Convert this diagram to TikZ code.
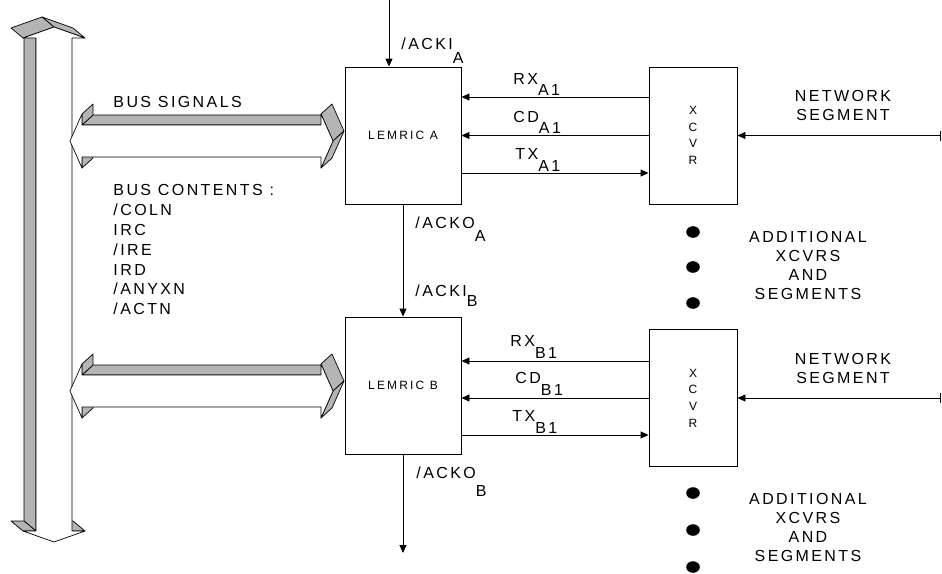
\documentclass[tikz,border=0pt]{standalone}
\usepackage{fontspec}
\setmainfont{Liberation Sans}
\newfontfamily\lblfont{Liberation Sans}[LetterSpace=15]
\newfontfamily\boxfont{Liberation Sans}[LetterSpace=18]
\usetikzlibrary{arrows.meta,positioning,calc}
\definecolor{busgray}{HTML}{B4B4B4}

\begin{document}
\begin{tikzpicture}[x=1pt, y=-1pt, line width=0.9pt,
  lbl/.style={font=\lblfont\fontsize{16}{19.8}\selectfont, inner sep=0pt},
  stack/.style={lbl, align=center, font=\lblfont\fontsize{16}{19}\selectfont},
  lemric/.style={draw, minimum width=116pt, minimum height=137pt, inner sep=0pt,
    font=\boxfont\fontsize{12}{13}\selectfont},
  xcvr/.style={draw, minimum width=88pt, minimum height=137pt, inner sep=0pt, align=center,
    font=\boxfont\fontsize{12}{16.7}\selectfont},
  sig/.style={-{Triangle[length=8pt,width=7pt]}},
  seg/.style={{Bar[width=10pt]}-{Triangle[length=8pt,width=7pt]}},
  face/.style={fill=busgray, draw, line width=0.7pt, line join=round},
  front/.style={fill=white, draw, line width=0.7pt, line join=round}]
  \useasboundingbox (0,0) rectangle (942,573);

  % vertical bus
  \draw[face] (36,531) -- (36,38) -- (24,28) -- (24,521) -- cycle;
  \draw[face] (72,531) -- (85,531) -- (73,521) -- (60,521) -- cycle;
  \draw[face] (23,531) -- (36,531) -- (24,521) -- (11,521) -- cycle;
  \draw[face] (54,27) -- (85,38) -- (73,28) -- (42,17) -- cycle;
  \draw[face] (23,38) -- (54,27) -- (42,17) -- (11,28) -- cycle;
  \draw[front] (54,27) -- (85,38) -- (72,38) -- (72,531) -- (85,531) -- (54,542)
    -- (23,531) -- (36,531) -- (36,38) -- (23,38) -- cycle;

  % horizontal buses
  \foreach \c in {141,391} {
    \draw[face] (82,\c-16) -- (321,\c-16) -- (332,\c-26) -- (93,\c-26) -- cycle;
    \draw[face] (82,\c-27) -- (82,\c-16) -- (93,\c-26) -- (93,\c-37) -- cycle;
    \draw[face] (321,\c-27) -- (333,\c) -- (344,\c-10) -- (332,\c-37) -- cycle;
    \draw[face] (333,\c) -- (321,\c+27) -- (332,\c+17) -- (344,\c-10) -- cycle;
    \draw[face] (82,\c+16) -- (82,\c+27) -- (93,\c+17) -- (93,\c+6) -- cycle;
    \draw[front] (70,\c) -- (82,\c-27) -- (82,\c-16) -- (321,\c-16) -- (321,\c-27)
      -- (333,\c) -- (321,\c+27) -- (321,\c+16) -- (82,\c+16) -- (82,\c+27) -- cycle;
  }

  \node[lemric] (lemA) at (403,135.5) {LEMRIC A};
  \node[lemric] (lemB) at (403,385.5) {LEMRIC B};
  \node[xcvr] (xcvrA) at (693,135.5) {X\\C\\V\\R};
  \node[xcvr] (xcvrB) at (693,398) {X\\C\\V\\R};

  \coordinate (ackIn) at (389,0);
  \coordinate (ackOut) at (403,553);
  \coordinate (segEnd) at (941,0);

  \draw[sig] (ackIn) -- (ackIn |- lemA.north);
  \draw[sig] (lemA.south) -- (lemB.north);
  \draw[sig] (lemB.south) -- (ackOut);

  % A side
  \path ([yshift=38.5pt]xcvrA.west) coordinate (rxA)
        ([yshift=-37.5pt]xcvrA.west) coordinate (txA);
  \draw[sig] (rxA) -- (rxA -| lemA.east);
  \draw[sig] (xcvrA.west) -- (lemA.east);
  \draw[sig] (txA -| lemA.east) -- (txA);
  \draw[seg] (segEnd |- xcvrA.east) -- (xcvrA.east);

  % B side
  \path ([yshift=37pt]xcvrB.west) coordinate (rxB)
        ([yshift=-37pt]xcvrB.west) coordinate (txB);
  \draw[sig] (rxB) -- (rxB -| lemB.east);
  \draw[sig] (xcvrB.west) -- (xcvrB.west -| lemB.east);
  \draw[sig] (txB -| lemB.east) -- (txB);
  \draw[seg] (segEnd |- xcvrB.east) -- (xcvrB.east);

  % labels
  \node[lbl,anchor=base west] (ackiAl) at (401,49) {/ACKI\raisebox{-14pt}{A}};
  \node[lbl,anchor=base west] (ackoAl) at (415,228) {/ACKO\raisebox{-13pt}{A}};
  \node[lbl,anchor=base west] (ackiBl) at (415,296) {/ACKI\raisebox{-10pt}{B}};
  \node[lbl,anchor=base west] (ackoBl) at (416,478) {/ACKO\raisebox{-18pt}{B}};

  \node[lbl,anchor=base west] (rxAl) at (513,84) {RX\raisebox{-11pt}{A1}};
  \node[lbl,anchor=base west] (cdAl) at (513,122) {CD\raisebox{-11pt}{A1}};
  \node[lbl,anchor=base west] (txAl) at (515,159) {TX\raisebox{-12pt}{A1}};
  \node[lbl,anchor=base west] (rxBl) at (510,346) {RX\raisebox{-12pt}{B1}};
  \node[lbl,anchor=base west] (cdBl) at (515,383) {CD\raisebox{-12pt}{B1}};
  \node[lbl,anchor=base west] (txBl) at (512,421) {TX\raisebox{-12pt}{B1}};

  \node[lbl,anchor=base west] (busSig) at (113,107) {BUS SIGNALS};
  \foreach \t [count=\i] in {BUS CONTENTS :,/COLN,IRC,/IRE,IRD,/ANYXN,/ACTN}
    \node[lbl,anchor=base west] (bus\i) at (113,176+19.8*\i) {\t};

  \node[stack] (netA) at (843,105) {NETWORK\\SEGMENT};
  \node[stack] (netB) at (843,368.5) {NETWORK\\SEGMENT};
  \node[stack] (addA) at (808,265) {ADDITIONAL\\XCVRS\\AND\\SEGMENTS};
  \node[stack] (addB) at (808,527.5) {ADDITIONAL\\XCVRS\\AND\\SEGMENTS};

  \foreach \y in {232,267,303,493,530,567}
    \fill (693,\y) ellipse [x radius=6.8pt, y radius=5.8pt];
\end{tikzpicture}
\end{document}
